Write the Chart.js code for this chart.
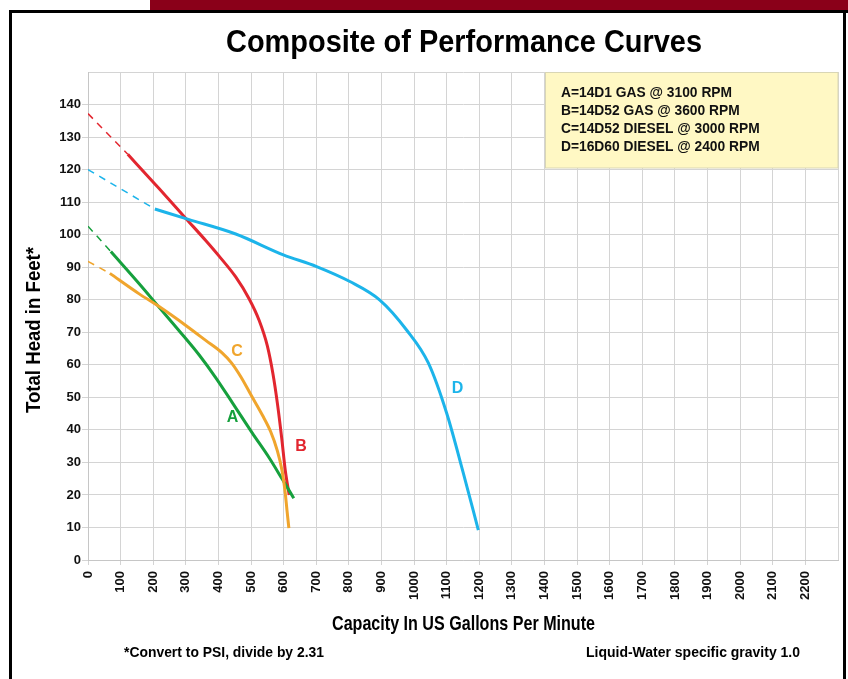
<!DOCTYPE html>
<html>
<head>
<meta charset="utf-8">
<script src="https://cdn.jsdelivr.net/npm/chart.js@4.4.1/dist/chart.umd.min.js"></script>
<style>
  html, body { margin: 0; padding: 0; background: #fff; }
  canvas { display: block; }
</style>
</head>
<body>
<canvas id="chart" width="848" height="679"></canvas>
<script>
// capacity (US gpm) and head (ft)
const curveA_gpm  = [70, 157, 218, 280, 341, 392, 443, 504, 555, 596, 631];
const curveA_head = [94.8, 84.9, 77.7, 70.4, 63.0, 56.0, 48.3, 39.0, 31.5, 24.8, 19.0];
const curveB_gpm  = [122, 203, 244, 300, 361, 402, 453, 494, 525, 550, 567, 581, 594, 605, 617];
const curveB_head = [124.7, 115.8, 111.3, 105.0, 98.2, 93.4, 87.0, 80.3, 73.6, 65.8, 57.3, 48.0, 37.5, 27.5, 20.0];
const curveC_gpm  = [67, 157, 218, 300, 361, 412, 440, 470, 500, 535, 560, 580, 595, 605, 610, 616];
const curveC_head = [88.1, 81.8, 77.9, 72.1, 67.5, 63.6, 60.6, 56.1, 50.7, 44.5, 39.5, 33.8, 27.5, 20.5, 15.5, 9.8];
const curveD_gpm  = [205, 308, 453, 599, 701, 803, 895, 977, 1044, 1100, 1151, 1197];
const curveD_head = [107.9, 104.7, 100.2, 93.8, 90.2, 85.6, 79.9, 70.7, 60.5, 45.1, 26.7, 9.2];

// dashed extensions back to shut-off head
const extA_gpm = [0, 70],  extA_head = [102.6, 94.8];
const extB_gpm = [0, 122], extB_head = [137.2, 124.7];
const extC_gpm = [0, 67],  extC_head = [91.8, 88.1];
const extD_gpm = [0, 205], extD_head = [120, 107.9];

const xMax = 2300, xStep = 100, xLastLabel = 2200;
const yMax = 150, yStep = 10, yLastLabel = 140;

const legendLines = [
  'A=14D1 GAS @ 3100 RPM',
  'B=14D52 GAS @ 3600 RPM',
  'C=14D52 DIESEL @ 3000 RPM',
  'D=16D60 DIESEL @ 2400 RPM'
];
const curveNames = ['A', 'B', 'C', 'D'];
const labelGpm  = [443, 653, 457, 1133];
const labelHead = [43.9, 35, 64, 52.8];

const colors = { A: '#16a03d', B: '#e2262f', C: '#f0a52d', D: '#1cb4ea' };

function pts(xs, ys) { return xs.map((x, i) => ({ x: x, y: ys[i] })); }

function solid(name, xs, ys) {
  return {
    label: name, data: pts(xs, ys), showLine: true, borderColor: colors[name],
    borderWidth: 3, pointRadius: 0, cubicInterpolationMode: 'monotone', fill: false
  };
}
function dashed(name, xs, ys) {
  return {
    label: name + ' ext', data: pts(xs, ys), showLine: true, borderColor: colors[name],
    borderWidth: 1.5, borderDash: [7, 6], pointRadius: 0, fill: false
  };
}

const SANS = '"Liberation Sans", Arial, Helvetica, sans-serif';

// draws text squeezed to a target width (the original uses a narrow face)
function fitText(ctx, text, x, y, font, width, align) {
  ctx.save();
  ctx.font = font;
  const w = ctx.measureText(text).width;
  const k = width / w;
  let left = x;
  if (align === 'center') left = x - width / 2;
  else if (align === 'right') left = x - width;
  ctx.translate(left, y);
  ctx.scale(k, 1);
  ctx.textAlign = 'left';
  ctx.textBaseline = 'alphabetic';
  ctx.fillText(text, 0, 0);
  ctx.restore();
}

const decorations = {
  id: 'decorations',
  beforeDraw(chart) {
    const ctx = chart.ctx;
    ctx.save();
    ctx.fillStyle = '#fff';
    ctx.fillRect(0, 0, chart.width, chart.height);
    ctx.restore();
  },
  afterDraw(chart) {
    const ctx = chart.ctx;
    const xs = chart.scales.x, ys = chart.scales.y;
    ctx.save();

    // maroon strip and black frame
    ctx.fillStyle = '#8a0019';
    ctx.fillRect(150, 0, 698, 10);
    ctx.fillStyle = '#000';
    ctx.fillRect(9, 10, 839, 3);
    ctx.fillRect(9, 10, 3, 669);
    ctx.fillRect(843, 10, 3, 669);

    // title
    ctx.fillStyle = '#000';
    fitText(ctx, 'Composite of Performance Curves', 464, 52, 'bold 32px ' + SANS, 476, 'center');

    // axis titles
    fitText(ctx, 'Capacity In US Gallons Per Minute', 463.5, 630, 'bold 21px ' + SANS, 263, 'center');
    ctx.save();
    ctx.translate(40, 330);
    ctx.rotate(-Math.PI / 2);
    fitText(ctx, 'Total Head in Feet*', 0, 0, 'bold 21px ' + SANS, 166, 'center');
    ctx.restore();

    // footnotes
    fitText(ctx, '*Convert to PSI, divide by 2.31', 124, 657, 'bold 15px ' + SANS, 200, 'left');
    fitText(ctx, 'Liquid-Water specific gravity 1.0', 800, 657, 'bold 15px ' + SANS, 214, 'right');

    // legend box
    ctx.fillStyle = '#fff8c4';
    ctx.fillRect(545, 72.5, 293, 95.5);
    ctx.strokeStyle = '#d9d6b4';
    ctx.lineWidth = 1;
    ctx.strokeRect(545.5, 72.5, 292.5, 95.5);
    ctx.fillStyle = '#111';
    ctx.font = 'bold 13.8px ' + SANS;
    ctx.textAlign = 'left';
    ctx.textBaseline = 'alphabetic';
    legendLines.forEach((t, i) => ctx.fillText(t, 561, 97 + i * 18));

    // curve letters
    ctx.font = 'bold 16px ' + SANS;
    ctx.textAlign = 'center';
    ctx.textBaseline = 'middle';
    curveNames.forEach((n, i) => {
      ctx.fillStyle = colors[n];
      ctx.fillText(n, xs.getPixelForValue(labelGpm[i]), ys.getPixelForValue(labelHead[i]));
    });
    ctx.restore();
  }
};

new Chart(document.getElementById('chart'), {
  type: 'scatter',
  data: {
    datasets: [
      dashed('D', extD_gpm, extD_head),
      dashed('B', extB_gpm, extB_head),
      dashed('A', extA_gpm, extA_head),
      dashed('C', extC_gpm, extC_head),
      solid('D', curveD_gpm, curveD_head),
      solid('C', curveC_gpm, curveC_head),
      solid('A', curveA_gpm, curveA_head),
      solid('B', curveB_gpm, curveB_head)
    ]
  },
  options: {
    responsive: false,
    devicePixelRatio: 1,
    animation: false,
    layout: { padding: { left: 0, top: 72, right: 10, bottom: 0 } },
    plugins: { legend: { display: false }, tooltip: { enabled: false }, title: { display: false } },
    scales: {
      x: {
        type: 'linear', min: 0, max: xMax,
        afterFit(scale) { scale.height = 119; scale.paddingLeft = 0; scale.paddingRight = 0; },
        grid: {
          color: '#d4d4d4', lineWidth: 1, tickLength: 5,
          tickColor: c => (c.tick && c.tick.value > xLastLabel ? 'rgba(0,0,0,0)' : '#d4d4d4')
        },
        border: { color: '#c6c6c6' },
        ticks: {
          stepSize: xStep, autoSkip: false, maxRotation: 90, minRotation: 90, padding: 6,
          color: '#111', font: { family: SANS, size: 13, weight: 'bold' },
          callback: v => (v <= xLastLabel ? String(v) : '')
        }
      },
      y: {
        type: 'linear', min: 0, max: yMax,
        afterFit(scale) { scale.width = 88; scale.paddingTop = 0; scale.paddingBottom = 0; },
        grid: {
          color: '#d4d4d4', lineWidth: 1, tickLength: 6,
          tickColor: c => (c.tick && c.tick.value > yLastLabel ? 'rgba(0,0,0,0)' : '#d4d4d4')
        },
        border: { color: '#c6c6c6' },
        ticks: {
          stepSize: yStep, padding: 1,
          color: '#111', font: { family: SANS, size: 13, weight: 'bold' },
          callback: v => (v <= yLastLabel ? String(v) : '')
        }
      }
    }
  },
  plugins: [decorations]
});
</script>
</body>
</html>
